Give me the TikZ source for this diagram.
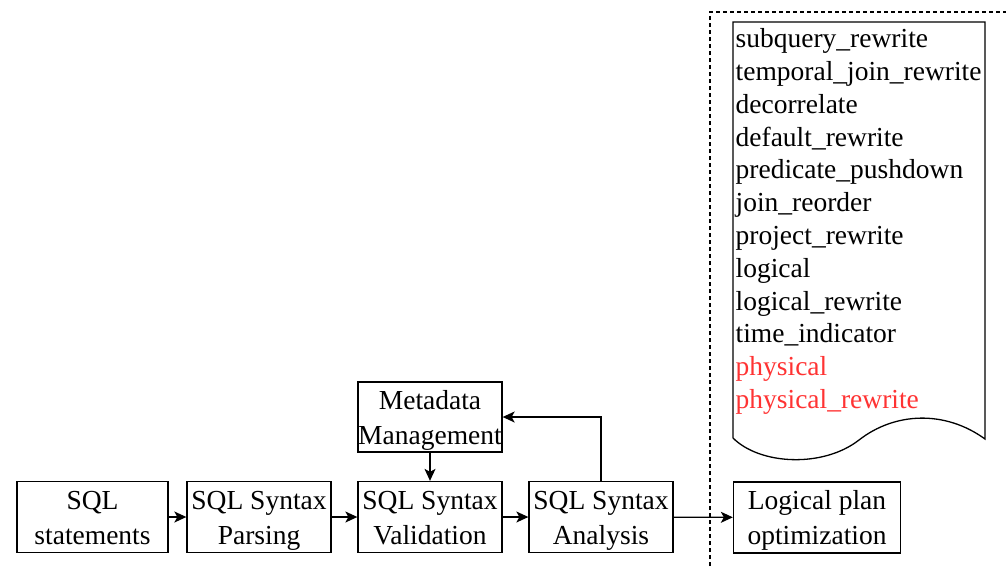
\documentclass[tikz,border=0pt]{standalone}
\usepackage{fontspec}
\setmainfont{Liberation Serif}
\usepackage{tikz}
\usetikzlibrary{arrows,arrows.meta,positioning}
\tikzset{>={Stealth[length=12pt,width=11pt,inset=3pt]}}
\tikzstyle{stage}=[draw, text centered, align=center, minimum height=71, inner sep=0pt,
	font=\rmfamily\fontsize{27.5}{35}\selectfont]
\tikzstyle{flow}=[->, line width=1.3pt]
\definecolor{rulered}{RGB}{255,51,51}
\def\ux{1pt}
\def\uy{-1pt}
\def\tl{\rule{0pt}{26pt}}
\def\bl{\rule[-7pt]{0pt}{7pt}}

\begin{document}
\begin{tikzpicture}[x=\ux,y=\uy, line width=1.3pt, font=\rmfamily\fontsize{27.5}{32.8}\selectfont]
		\useasboundingbox (0,0) rectangle (1006,566);
		% pipeline
		\node[stage, minimum width=151] (stmt) at (92.5,517) {\tl SQL\\statements\bl};
		\node[stage, minimum width=144] (parse) at (259,517) {\tl SQL Syntax\\Parsing\bl};
		\node[stage, minimum width=144] (valid) at (430,517) {\tl SQL Syntax\\Validation\bl};
		\node[stage, minimum width=144] (analysis) at (601,517) {\tl SQL Syntax\\Analysis\bl};
		\node[stage, minimum width=144, minimum height=70] (meta) at (430,417) {\tl Metadata\\Management\bl};
		\node[stage, minimum width=167] (logical) at (817,517.5) {\tl Logical plan\\optimization\bl};

		\draw[flow] (stmt) -- (parse);
		\draw[flow] (parse) -- (valid);
		\draw[flow] (valid) -- (analysis);
		\draw[flow] (analysis) -- (logical);
		\draw[flow] (meta) -- (valid);
		\draw[flow] (analysis.north) |- (meta.east);

		% optimizer rules
		\draw[dash pattern=on 4pt off 3pt] (710,566) -- (710,12) -- (1006,12);
		\draw (733,438) -- (733,22) -- (985,22) -- (985,439)
			.. controls (945,410) and (895,412) .. (859,440)
			.. controls (823,468) and (760,465) .. (733,438);
		\node[anchor=west, align=left, inner sep=2pt] (rules) at (733,221.5) {%
			subquery\_rewrite\\temporal\_join\_rewrite\\decorrelate\\default\_rewrite\\
			predicate\_pushdown\\join\_reorder\\project\_rewrite\\logical\\
			logical\_rewrite\\time\_indicator\\
			\textcolor{rulered}{physical}\\\textcolor{rulered}{physical\_rewrite}};
\end{tikzpicture}
\end{document}
